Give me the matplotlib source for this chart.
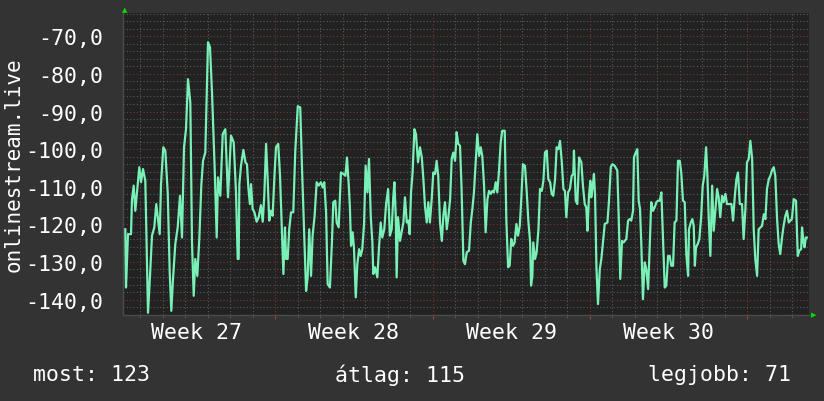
import matplotlib
matplotlib.use("Agg")
import matplotlib.pyplot as plt
from matplotlib.ticker import MultipleLocator, FixedLocator
from matplotlib.transforms import blended_transform_factory

# days since the start of week 27
days = [
    0.325, 0.356, 0.445, 0.579, 0.623, 0.699, 0.770, 0.846, 0.948, 1.024,
    1.113, 1.215, 1.335, 1.424, 1.513, 1.615, 1.704, 1.856, 1.914, 2.016,
    2.105, 2.212, 2.301, 2.372, 2.448, 2.550, 2.657, 2.759, 2.848, 2.937,
    3.026, 3.115, 3.218, 3.293, 3.369, 3.440, 3.529, 3.618, 3.707, 3.783,
    3.885, 4.005, 4.094, 4.183, 4.303, 4.392, 4.450, 4.553, 4.660, 4.775,
    4.895, 5.029, 5.149, 5.251, 5.327,
    5.37, 5.40, 5.474, 5.58, 5.67, 5.74, 5.80, 5.87, 5.92, 5.99,
    6.07, 6.17, 6.26, 6.36, 6.44, 6.51, 6.59, 6.66, 6.73, 6.81,
    6.88, 6.96, 7.03, 7.13, 7.21, 7.29, 7.36, 7.43, 7.48, 7.55,
    7.62, 7.70, 7.80, 7.89, 8.00, 8.11, 8.19, 8.28, 8.37, 8.44,
    8.51, 8.59, 8.66, 8.75, 8.84, 8.93, 9.03, 9.11, 9.18, 9.26,
    9.33, 9.43, 9.52, 9.58, 9.67, 9.73, 9.82, 9.92, 10.03, 10.12,
    10.19, 10.27, 10.32,
    10.37, 10.44, 10.50, 10.58, 10.65, 10.73, 10.80, 10.87, 10.95, 11.02,
    11.10, 11.17, 11.25, 11.32, 11.36, 11.44, 11.54, 11.62, 11.69, 11.76,
    11.85, 11.93, 12.02, 12.10, 12.18, 12.25, 12.30, 12.36, 12.40, 12.46,
    12.55, 12.63, 12.70, 12.77, 12.85, 12.92, 12.98, 13.04, 13.11, 13.19,
    13.26, 13.35, 13.44, 13.52, 13.59, 13.66, 13.74, 13.81, 13.88, 13.96,
    14.03, 14.11, 14.18, 14.25, 14.33, 14.41, 14.48, 14.55, 14.63, 14.70,
    14.78, 14.85, 14.92, 15.00, 15.07, 15.14, 15.22, 15.29, 15.37, 15.44,
    15.52, 15.62, 15.70, 15.77, 15.84, 15.92, 15.99, 16.07, 16.14, 16.21,
    16.29, 16.36, 16.44, 16.51, 16.59, 16.66, 16.73, 16.81, 16.88, 16.96,
    17.03, 17.10, 17.21, 17.28, 17.36, 17.43, 17.50, 17.58, 17.65, 17.73,
    17.80, 17.88, 17.95, 18.02, 18.11, 18.19, 18.26, 18.34, 18.38, 18.44,
    18.48, 18.56, 18.63, 18.71, 18.78, 18.86, 18.93, 19.00, 19.08, 19.15,
    19.23, 19.30, 19.37, 19.45, 19.52, 19.60, 19.67, 19.75, 19.82, 19.89,
    19.95, 20.03, 20.11, 20.19, 20.26, 20.29, 20.37, 20.44, 20.52,
    20.62, 20.69, 20.77, 20.84, 20.89, 20.96, 21.02, 21.06, 21.13, 21.18,
    21.23, 21.29, 21.36, 21.44, 21.51, 21.58, 21.66, 21.78, 21.85, 21.93,
    22.00, 22.10, 22.22, 22.28, 22.35, 22.43, 22.50, 22.62, 22.70, 22.77,
    22.84, 22.92, 22.96, 23.04, 23.11, 23.17, 23.23, 23.29, 23.36, 23.44,
    23.51, 23.59, 23.66, 23.73, 23.81, 23.88, 23.96, 24.03, 24.11, 24.18,
    24.25, 24.33, 24.40, 24.48, 24.55, 24.62, 24.70, 24.77, 24.85, 24.92,
    25.00, 25.07, 25.14, 25.22, 25.29, 25.37, 25.41, 25.49, 25.56,
    25.62, 25.67, 25.72, 25.80, 25.87, 25.95, 26.02, 26.09, 26.17, 26.23,
    26.29, 26.36, 26.44, 26.51, 26.58, 26.66, 26.73, 26.80, 26.88, 26.95,
    27.03, 27.10, 27.30, 27.37, 27.45, 27.52, 27.59, 27.67, 27.77, 27.84,
    27.92, 27.99, 28.07, 28.14, 28.22, 28.29, 28.36, 28.44, 28.51, 28.59,
    28.66, 28.74, 28.81, 28.88, 28.96, 29.03, 29.10, 29.18, 29.25, 29.33,
    29.40, 29.47, 29.55, 29.62, 29.70, 29.77, 29.85, 29.92, 29.99, 30.07,
    30.17, 30.25, 30.32, 30.40, 30.44, 30.51, 30.55, 30.61, 30.65,
]

signal = [
    -121.3, -136.8, -122.6, -122.6, -113.3, -109.7, -116.4, -111.5, -104.8, -108.8,
    -105.3, -108.4, -143.5, -133.7, -123.0, -120.8, -114.6, -122.6, -109.3, -99.5,
    -100.4, -111.5, -132.8, -143.0, -134.5, -125.2, -120.8, -112.4, -123.5, -99.5,
    -94.7, -81.4, -87.6, -124.8, -139.0, -129.2, -133.7, -123.9, -109.7, -103.1,
    -100.9, -71.6, -72.9, -84.9, -105.3, -123.5, -107.5, -112.4, -96.0, -94.7,
    -112.8, -96.4, -98.2, -111.5, -129.2,
    -129.2, -109.3, -104.4, -100.2, -103.5, -104.0, -110.2, -114.6, -109.3, -115.9,
    -116.8, -119.3, -118.1, -114.9, -119.3, -112.4, -98.6, -108.0, -119.0, -116.4,
    -117.7, -107.5, -99.5, -98.6, -107.1, -120.8, -133.2, -120.8, -129.2, -129.2,
    -121.3, -116.8, -116.8, -100.4, -88.6, -88.9, -105.3, -121.3, -137.7, -134.1,
    -121.3, -133.7, -123.0, -117.7, -108.8, -109.7, -108.8, -110.2, -108.8, -116.8,
    -135.9, -136.8, -124.8, -114.1, -113.7, -119.5, -120.8, -106.2, -106.6, -107.1,
    -102.2, -109.7, -115.5,
    -125.7, -122.1, -126.1, -139.4, -130.6, -126.6, -128.4, -126.6, -119.9, -104.4,
    -111.5, -102.6, -118.1, -124.8, -133.2, -131.4, -134.1, -125.7, -119.5, -123.5,
    -121.3, -114.6, -110.6, -123.0, -121.3, -112.8, -108.8, -117.7, -134.1, -118.1,
    -124.4, -121.7, -119.5, -112.8, -119.5, -119.0, -122.6, -111.5, -106.2, -94.7,
    -96.0, -103.5, -99.5, -102.2, -108.0, -115.1, -119.5, -114.1, -119.5, -113.3,
    -106.2, -106.6, -103.1, -107.1, -119.5, -124.4, -117.7, -114.1, -121.3, -118.1,
    -113.3, -102.6, -100.9, -103.1, -95.5, -98.6, -99.1, -110.6, -129.7, -130.6,
    -127.4, -127.0, -119.5, -115.9, -111.5, -103.1, -96.0, -101.8, -99.5, -101.8,
    -109.7, -122.1, -113.3, -111.1, -111.9, -111.1, -111.5, -108.8, -111.5, -105.3,
    -98.2, -95.1, -95.1, -118.6, -131.4, -131.0, -123.9, -125.7, -124.8, -119.9,
    -123.0, -120.4, -112.8, -104.0, -104.4, -111.5, -119.0, -124.8, -136.3, -133.7,
    -124.8, -129.2, -127.4, -121.3, -110.6, -111.1, -108.4, -100.9, -100.4, -108.0,
    -108.8, -111.9, -112.4, -108.0, -99.5, -100.0, -97.8, -103.5, -110.6, -111.1,
    -118.1, -111.5, -110.6, -107.1, -106.6, -100.4, -113.7, -114.6, -102.2,
    -103.5, -109.7, -114.6, -115.5, -121.7, -112.4, -108.4, -112.8, -109.7, -106.6,
    -112.4, -131.4, -141.2, -131.9, -129.2, -124.8, -119.9, -119.5, -113.7, -104.8,
    -104.0, -104.4, -105.7, -117.7, -134.5, -124.4, -124.8, -123.9, -119.0, -118.6,
    -119.0, -116.4, -102.2, -100.9, -100.0, -113.7, -115.9, -125.7, -139.9, -130.1,
    -131.9, -137.2, -126.1, -114.1, -116.4, -115.5, -114.1, -113.7, -113.7, -111.5,
    -123.0, -136.8, -136.3, -128.4, -128.4, -131.0, -131.0, -119.5, -119.0, -103.1,
    -103.1, -106.6, -113.7, -114.1, -127.9, -133.7, -121.3, -119.5, -118.6,
    -120.4, -131.0, -126.1, -125.2, -123.9, -118.1, -109.7, -107.1, -99.5, -107.1,
    -118.6, -128.4, -109.7, -121.7, -116.4, -110.6, -112.8, -118.1, -112.4, -114.1,
    -111.9, -114.6, -114.6, -119.0, -112.4, -108.0, -106.2, -114.6, -114.6, -123.9,
    -115.9, -103.5, -102.6, -97.8, -102.6, -121.3, -129.2, -133.7, -121.3, -120.8,
    -120.4, -117.3, -118.6, -110.6, -108.0, -107.1, -105.7, -104.8, -107.1, -118.6,
    -125.2, -127.9, -123.5, -120.4, -117.7, -116.4, -119.5, -119.0, -118.6, -113.3,
    -113.7, -128.4, -127.0, -126.6, -120.8, -124.8, -126.1, -123.5, -123.5,
]

weeks = [27, 28, 29, 30]
y_ticks = [-140, -130, -120, -110, -100, -90, -80, -70]
legend_items = [("most", 123), ("átlag", 115), ("legjobb", 71)]

FONT = "DejaVu Sans Mono"
BG = "#333333"
PLOT_BG = "#222222"
TEXT = "#ffffff"
LINE = "#78f0b6"
MINOR = "#5a5a5a"
MAJOR = "#7a3434"

fig = plt.figure(figsize=(8.24, 4.02), dpi=100, facecolor=BG)
ax = fig.add_axes([123 / 824, 1 - 316 / 402, 686 / 824, 302 / 402])
ax.set_facecolor(PLOT_BG)

ax.set_xlim(0.2225, 30.75)
ax.set_ylim(-144.1, -63.8)

# grid: minor every day / 2 units, major every week / 10 units
ax.xaxis.set_major_locator(FixedLocator([7 * i for i in range(5)]))
ax.xaxis.set_minor_locator(MultipleLocator(1))
ax.yaxis.set_major_locator(FixedLocator(y_ticks))
ax.yaxis.set_minor_locator(MultipleLocator(2))
ax.grid(which="minor", color=MINOR, linestyle=(0, (1, 2)), linewidth=0.8)
ax.grid(which="major", color=MAJOR, linestyle=(0, (1, 2)), linewidth=0.8)
ax.set_axisbelow(True)

ax.plot(days, signal, color=LINE, linewidth=1.6, zorder=3)

ax.set_xticklabels([])
ax.set_yticklabels([f"{v:.1f}".replace(".", ",") for v in y_ticks])
ax.tick_params(axis="y", which="both", length=0, pad=14, labelsize=15.5,
               labelcolor=TEXT, labelfontfamily=FONT)
ax.tick_params(axis="x", which="minor", length=2, color=MINOR)
ax.tick_params(axis="x", which="major", length=3, color="#a04040")

for side in ["top", "right"]:
    ax.spines[side].set_visible(False)
for side in ["left", "bottom"]:
    ax.spines[side].set_color("#4a4a4a")
    ax.spines[side].set_linewidth(1)

trans = blended_transform_factory(ax.transData, ax.transAxes)
for i, w in enumerate(weeks):
    ax.text(3.5 + 7 * i, -0.055, f"Week {w}", transform=trans, ha="center",
            va="center", color=TEXT, fontsize=15.5, family=FONT)

# vertical axis title, placed in figure pixels like the original
fig.text(14 / 824, 1 - 165 / 402, "onlinestream.live", rotation=90,
         color=TEXT, fontsize=15, family=FONT, ha="center", va="center")

# small green arrows at axis ends
fig.text(125 / 824, 1 - 10 / 402, "▲", color="#00e000", fontsize=5,
         ha="center", va="center", family="DejaVu Sans")
fig.text(814 / 824, 1 - 315 / 402, "▶", color="#00e000", fontsize=5,
         ha="center", va="center", family="DejaVu Sans")

label_x = [(33 / 824, "left"), (400 / 824, "center"), (791 / 824, "right")]
for (name, val), (xp, ha) in zip(legend_items, label_x):
    fig.text(xp, 1 - 375 / 402, f"{name}: {val}", color=TEXT, fontsize=15.5,
             family=FONT, ha=ha, va="center")

fig.savefig("out.png", dpi=100, facecolor=BG)
